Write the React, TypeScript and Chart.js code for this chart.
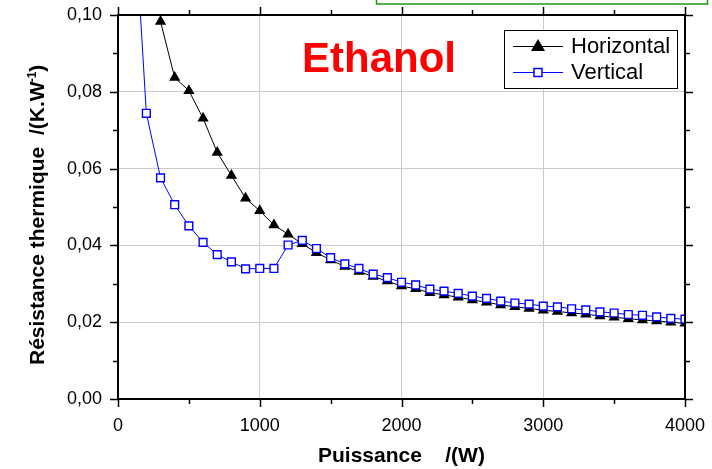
import React, { useEffect, useRef } from "react";
import { Chart, registerables } from "chart.js";

Chart.register(...registerables);

// ---- data ----
const chartTitle = "Ethanol";
const xAxisTitle = "Puissance    /(W)";
const yAxisTitleMain = "Résistance thermique";
const yAxisTitleUnit = "/(K.W";
const yAxisTitleSup = "-1";
const seriesNames = ["Horizontal", "Vertical"];

const horizontalPower = [
  300, 400, 500, 600, 700, 800, 900, 1000, 1100, 1200, 1300, 1400, 1500, 1600, 1700, 1800, 1900,
  2000, 2100, 2200, 2300, 2400, 2500, 2600, 2700, 2800, 2900, 3000, 3100, 3200, 3300, 3400, 3500,
  3600, 3700, 3800, 3900, 4000,
];
const horizontalR = [
  0.0983, 0.0837, 0.0803, 0.0731, 0.0642, 0.0582, 0.0523, 0.049, 0.0453, 0.0429, 0.0404, 0.0381,
  0.0362, 0.0345, 0.0332, 0.0319, 0.0307, 0.0294, 0.0287, 0.0277, 0.0271, 0.0265, 0.0258, 0.0252,
  0.0245, 0.024, 0.0236, 0.0231, 0.0228, 0.0224, 0.0221, 0.0216, 0.0213, 0.0209, 0.0206, 0.0203,
  0.02, 0.0197,
];

const verticalPower = [
  100, 200, 300, 400, 500, 600, 700, 800, 900, 1000, 1100, 1200, 1300, 1400, 1500, 1600, 1700, 1800,
  1900, 2000, 2100, 2200, 2300, 2400, 2500, 2600, 2700, 2800, 2900, 3000, 3100, 3200, 3300, 3400,
  3500, 3600, 3700, 3800, 3900, 4000,
];
const verticalR = [
  0.136, 0.0744, 0.0576, 0.0506, 0.0451, 0.0408, 0.0376, 0.0357, 0.0339, 0.034, 0.034, 0.0401,
  0.0413, 0.0392, 0.0368, 0.0352, 0.034, 0.0325, 0.0316, 0.0304, 0.0297, 0.0286, 0.0281, 0.0275,
  0.0268, 0.0262, 0.0255, 0.025, 0.0247, 0.0242, 0.024, 0.0235, 0.0232, 0.0227, 0.0224, 0.022,
  0.0218, 0.0214, 0.021, 0.0208,
];

const xMin = 0;
const xMax = 4000;
const xMajorStep = 1000;
const xMinorStep = 500;
const yMin = 0;
const yMax = 0.1;
const yMajorStep = 0.02;
const yMinorStep = 0.01;

const FONT = "'Liberation Sans', Arial, Helvetica, sans-serif";
const BLUE = "#0000ff";

const decorPlugin = {
  id: "decor",
  afterDraw(chart: any) {
    const { ctx, chartArea: a, scales } = chart;
    const xs = scales.x;
    const ys = scales.y;
    ctx.save();

    // green box at the top (cut off)
    ctx.strokeStyle = "#1a961a";
    ctx.lineWidth = 1.5;
    ctx.strokeRect(376.5, -10, 331, 14);

    // frame (top / right)
    ctx.strokeStyle = "#000";
    ctx.lineWidth = 2;
    ctx.beginPath();
    ctx.moveTo(a.left - 1, a.top);
    ctx.lineTo(a.right, a.top);
    ctx.lineTo(a.right, a.bottom + 1);
    ctx.stroke();

    // tick marks
    ctx.lineWidth = 1.5;
    ctx.beginPath();
    const nx = Math.round((xMax - xMin) / xMinorStep);
    for (let i = 0; i <= nx; i++) {
      const v = xMin + i * xMinorStep;
      const major = Math.abs(v / xMajorStep - Math.round(v / xMajorStep)) < 1e-9;
      const len = major ? 8 : 5;
      const px = Math.round(xs.getPixelForValue(v)) + 0.5;
      ctx.moveTo(px, a.bottom);
      ctx.lineTo(px, a.bottom + len);
      ctx.moveTo(px, a.top);
      ctx.lineTo(px, a.top - len);
    }
    const ny = Math.round((yMax - yMin) / yMinorStep);
    for (let i = 0; i <= ny; i++) {
      const v = yMin + i * yMinorStep;
      const major = i % 2 === 0;
      const len = major ? 8 : 5;
      const py = Math.round(ys.getPixelForValue(v)) + 0.5;
      ctx.moveTo(a.left, py);
      ctx.lineTo(a.left - len, py);
      ctx.moveTo(a.right, py);
      ctx.lineTo(a.right + len, py);
    }
    ctx.stroke();

    // chart title
    ctx.fillStyle = "#ff0000";
    ctx.font = `bold 42px ${FONT}`;
    ctx.textAlign = "center";
    ctx.textBaseline = "alphabetic";
    ctx.fillText(chartTitle, 379, 72);

    // x axis title
    ctx.fillStyle = "#000";
    ctx.font = `bold 21px ${FONT}`;
    ctx.textAlign = "left";
    ctx.fillText(xAxisTitle, 318, 462);

    // y axis title (rotated)
    ctx.save();
    ctx.translate(44, 0);
    ctx.rotate(-Math.PI / 2);
    ctx.font = `bold 21px ${FONT}`;
    ctx.textAlign = "left";
    ctx.fillText(yAxisTitleMain, -365, 0);
    let pos = -135;
    ctx.fillText(yAxisTitleUnit, pos, 0);
    pos += ctx.measureText(yAxisTitleUnit).width;
    ctx.font = `bold 12px ${FONT}`;
    ctx.fillText(yAxisTitleSup, pos - 1, -8);
    pos += ctx.measureText(yAxisTitleSup).width - 1;
    ctx.font = `bold 21px ${FONT}`;
    ctx.fillText(")", pos, 0);
    ctx.restore();

    // legend
    const lx = 504.5, ly = 30.5, lw = 173, lh = 58;
    ctx.fillStyle = "#fff";
    ctx.fillRect(lx, ly, lw, lh);
    ctx.strokeStyle = "#000";
    ctx.lineWidth = 1;
    ctx.strokeRect(lx, ly, lw, lh);

    const rows = [
      { y: 46, color: "#000", kind: "tri", label: seriesNames[0] },
      { y: 72, color: BLUE, kind: "rect", label: seriesNames[1] },
    ];
    rows.forEach((r) => {
      ctx.strokeStyle = r.color;
      ctx.lineWidth = 1;
      ctx.beginPath();
      ctx.moveTo(513, r.y + 0.5);
      ctx.lineTo(563, r.y + 0.5);
      ctx.stroke();
      if (r.kind === "tri") {
        ctx.fillStyle = "#000";
        ctx.beginPath();
        ctx.moveTo(538, r.y - 7);
        ctx.lineTo(545, r.y + 5);
        ctx.lineTo(531, r.y + 5);
        ctx.closePath();
        ctx.fill();
      } else {
        ctx.fillStyle = "#fff";
        ctx.fillRect(534, r.y - 3.5, 8, 8);
        ctx.strokeStyle = BLUE;
        ctx.lineWidth = 1.5;
        ctx.strokeRect(534, r.y - 3.5, 8, 8);
      }
      ctx.fillStyle = "#000";
      ctx.font = `22px ${FONT}`;
      ctx.textAlign = "left";
      ctx.textBaseline = "middle";
      ctx.fillText(r.label, 571, r.y + 1);
    });

    ctx.restore();
  },
};

export default function App() {
  const canvasRef = useRef<HTMLCanvasElement | null>(null);

  useEffect(() => {
    const canvas = canvasRef.current;
    if (!canvas) return;
    const chart = new Chart(canvas, {
      type: "line",
      data: {
        datasets: [
          {
            label: seriesNames[0],
            data: horizontalPower.map((p, i) => ({ x: p, y: horizontalR[i] })),
            borderColor: "#000",
            backgroundColor: "#000",
            borderWidth: 1,
            pointStyle: "triangle",
            pointRadius: 6.5,
            pointBackgroundColor: "#000",
            pointBorderColor: "#000",
            pointBorderWidth: 0,
            tension: 0,
            order: 2,
          },
          {
            label: seriesNames[1],
            data: verticalPower.map((p, i) => ({ x: p, y: verticalR[i] })),
            borderColor: BLUE,
            backgroundColor: "#fff",
            borderWidth: 1,
            pointStyle: "rect",
            pointRadius: 5.5,
            pointBackgroundColor: "#fff",
            pointBorderColor: BLUE,
            pointBorderWidth: 1.4,
            tension: 0,
            order: 1,
          },
        ],
      },
      options: {
        responsive: false,
        maintainAspectRatio: false,
        devicePixelRatio: 1,
        animation: false,
        events: [],
        layout: { padding: { top: 15, right: 27, left: 0, bottom: 0 } },
        plugins: {
          legend: { display: false },
          tooltip: { enabled: false },
          title: { display: false },
        },
        scales: {
          x: {
            type: "linear",
            min: xMin,
            max: xMax,
            afterFit: (s: any) => {
              s.height = 70;
              s.paddingLeft = 0;
              s.paddingRight = 0;
              s.paddingTop = 0;
              s.paddingBottom = 0;
            },
            ticks: {
              stepSize: xMajorStep,
              color: "#000",
              font: { family: FONT, size: 18 },
              padding: 16,
              maxRotation: 0,
              callback: (v: any) => String(v),
            },
            grid: { color: "#cccccc", lineWidth: 1, drawTicks: false },
            border: { display: true, color: "#000", width: 2 },
          },
          y: {
            type: "linear",
            min: yMin,
            max: yMax,
            afterFit: (s: any) => {
              s.width = 118;
              s.paddingLeft = 0;
              s.paddingRight = 0;
              s.paddingTop = 0;
              s.paddingBottom = 0;
            },
            ticks: {
              stepSize: yMajorStep,
              color: "#000",
              font: { family: FONT, size: 18 },
              padding: 16,
              callback: (v: any) => Number(v).toFixed(2).replace(".", ","),
            },
            grid: { color: "#cccccc", lineWidth: 1, drawTicks: false },
            border: { display: true, color: "#000", width: 2 },
          },
        },
      },
      plugins: [decorPlugin],
    });
    return () => chart.destroy();
  }, []);

  return (
    <div style={{ position: "absolute", left: 0, top: 0, width: 712, height: 469, background: "#fff" }}>
      <canvas ref={canvasRef} width={712} height={469} style={{ display: "block", width: 712, height: 469 }} />
    </div>
  );
}
